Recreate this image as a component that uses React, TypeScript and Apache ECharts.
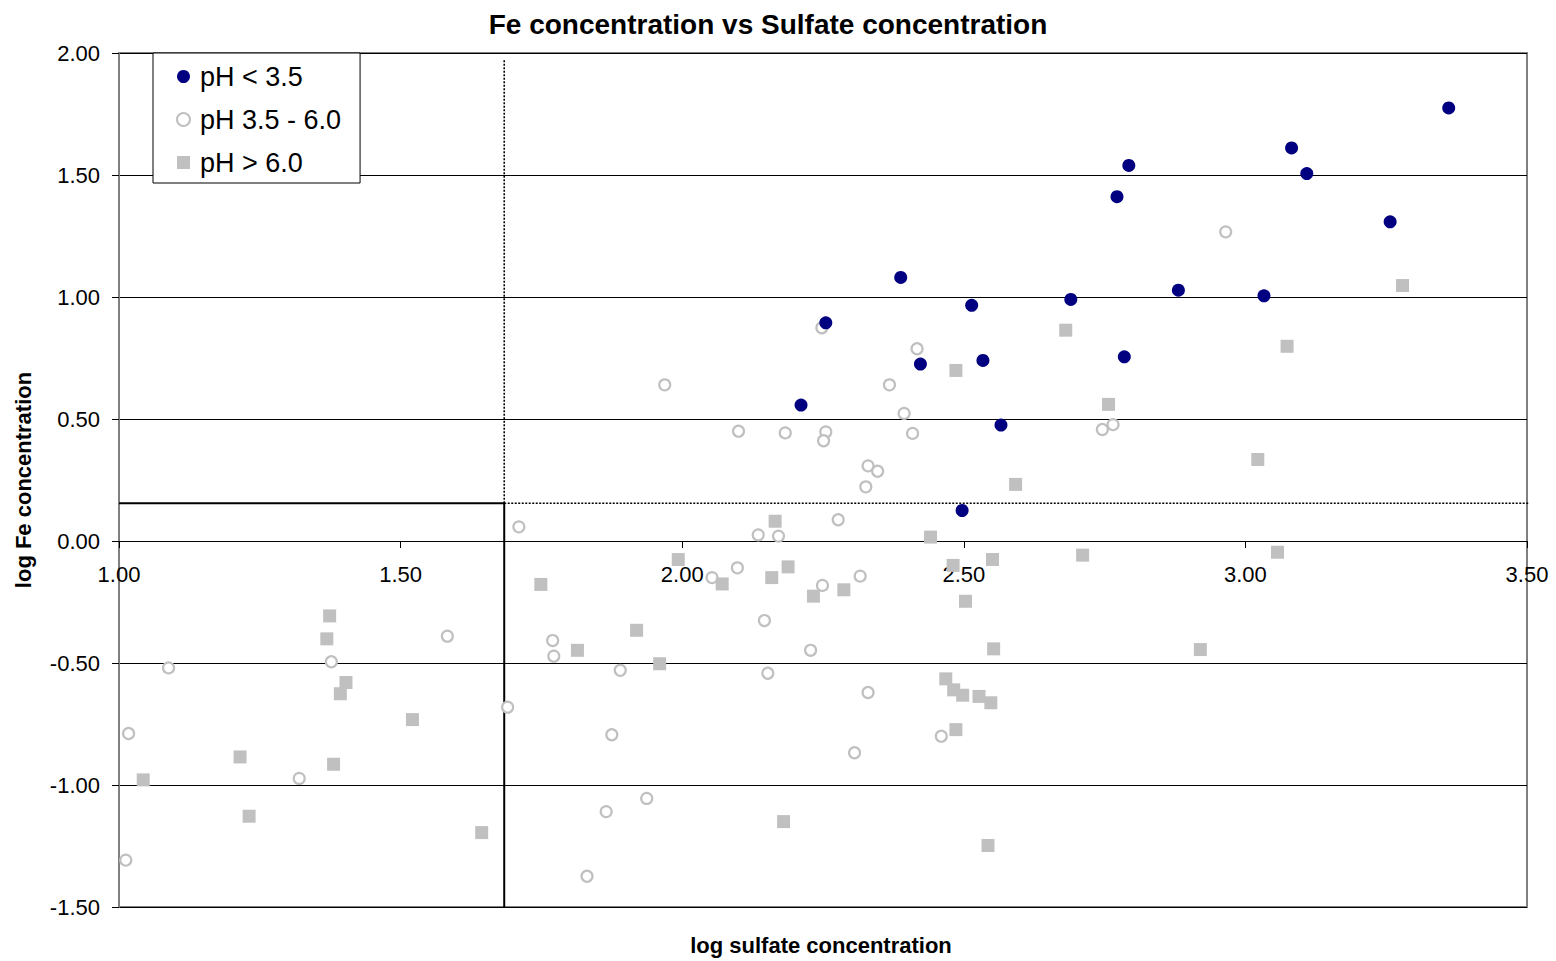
import React, { useEffect, useRef } from "react";
import * as echarts from "echarts";

// [log sulfate, log Fe]
const phBelow35: number[][] = [
  [3.361, 1.775], [3.082, 1.611], [3.109, 1.506], [2.793, 1.539], [2.772, 1.411],
  [3.257, 1.308], [2.388, 1.080], [2.881, 1.028], [3.033, 1.005], [2.690, 0.990],
  [2.514, 0.966], [2.255, 0.894], [2.423, 0.725], [2.534, 0.740], [2.785, 0.755],
  [2.211, 0.557], [2.566, 0.475], [2.497, 0.125],
];

const ph35to60: number[][] = [
  [1.017, -0.789], [1.012, -1.308], [1.088, -0.520], [1.377, -0.495], [1.320, -0.973],
  [1.583, -0.390], [1.690, -0.681], [1.710, 0.058], [1.770, -0.408], [1.772, -0.472],
  [1.890, -0.530], [1.875, -0.794], [1.865, -1.109], [1.937, -1.055], [1.831, -1.374],
  [1.969, 0.640], [2.053, -0.150], [2.098, -0.110], [2.100, 0.450], [2.135, 0.025],
  [2.171, 0.020], [2.146, -0.326], [2.152, -0.542], [2.183, 0.443], [2.228, -0.448],
  [2.249, -0.182], [2.248, 0.874], [2.255, 0.447], [2.251, 0.411], [2.277, 0.087],
  [2.316, -0.144], [2.330, -0.621], [2.306, -0.868], [2.326, 0.222], [2.330, 0.308],
  [2.347, 0.286], [2.368, 0.640], [2.394, 0.523], [2.409, 0.441], [2.417, 0.788],
  [2.460, -0.800], [2.746, 0.457], [2.765, 0.477], [2.965, 1.267],
];

const phAbove60: number[][] = [
  [1.374, -0.307], [1.369, -0.401], [1.403, -0.580], [1.393, -0.626], [1.521, -0.732],
  [1.215, -0.885], [1.381, -0.915], [1.043, -0.979], [1.231, -1.128], [1.644, -1.195],
  [1.749, -0.178], [1.919, -0.366], [1.814, -0.448], [1.960, -0.503], [1.993, -0.076],
  [2.071, -0.176], [2.159, -0.150], [2.188, -0.106], [2.165, 0.081], [2.233, -0.226],
  [2.287, -0.200], [2.180, -1.150], [2.441, 0.016], [2.481, -0.100], [2.551, -0.076],
  [2.503, -0.247], [2.553, -0.442], [2.468, -0.565], [2.482, -0.610], [2.498, -0.632],
  [2.527, -0.637], [2.548, -0.663], [2.486, -0.773], [2.543, -1.248], [2.486, 0.699],
  [2.592, 0.232], [2.681, 0.864], [2.757, 0.560], [2.711, -0.058], [3.022, 0.334],
  [3.057, -0.046], [2.920, -0.445], [3.074, 0.798], [3.279, 1.047],
];

// threshold lines
const thresholdSolid: number[][] = [[1.0, 0.155], [1.684, 0.155], [1.684, -1.5]];
const thresholdDottedV: number[][] = [[1.684, 0.155], [1.684, 1.97]];
const thresholdDottedH: number[][] = [[1.684, 0.155], [3.518, 0.155]];

const seriesNames = ["pH < 3.5", "pH 3.5 - 6.0", "pH > 6.0"];
const FONT = "'Liberation Sans', Arial, sans-serif";

const GRID_TOP = 53;
const GRID_H = 854;
const Y_MIN = -1.5;
const Y_MAX = 2;

export default function App() {
  const ref = useRef<HTMLDivElement>(null);
  useEffect(() => {
    document.body.style.margin = "0";
    const chart = echarts.init(ref.current!, undefined, { renderer: "svg" });
    const lineBase = {
      type: "line",
      showSymbol: false,
      symbol: "none",
      silent: true,
      clip: false,
      z: 1,
      animation: false,
    };
    // move the x axis (line, ticks, labels) up to y = 0
    const zeroOffset = -(GRID_H * (0 - Y_MIN)) / (Y_MAX - Y_MIN);
    chart.setOption({
      animation: false,
      backgroundColor: "#fff",
      title: {
        text: "Fe concentration vs Sulfate concentration",
        left: 763,
        top: 5,
        textAlign: "center",
        textStyle: { fontFamily: FONT, fontSize: 28, fontWeight: "bold", color: "#000" },
      },
      grid: {
        left: 119,
        top: GRID_TOP,
        width: 1408,
        height: GRID_H,
        show: true,
        borderColor: "#808080",
        borderWidth: 2,
        backgroundColor: "#fff",
        containLabel: false,
        outerBoundsMode: "none",
      },
      legend: {
        data: seriesNames,
        orient: "vertical",
        left: 153,
        top: 53,
        padding: [10, 19, 7, 23],
        itemGap: 16,
        itemWidth: 13,
        itemHeight: 13,
        backgroundColor: "#fff",
        borderColor: "#000",
        borderWidth: 1,
        borderRadius: 0,
        textStyle: { fontFamily: FONT, fontSize: 27, color: "#000", padding: [0, 0, 0, 5] },
      },
      xAxis: {
        type: "value",
        min: 1,
        max: 3.5,
        interval: 0.5,
        position: "bottom",
        offset: zeroOffset,
        axisLine: { onZero: false, lineStyle: { color: "#000", width: 1 } },
        axisTick: { show: true, length: 7, lineStyle: { color: "#000" } },
        axisLabel: {
          margin: 22,
          fontFamily: FONT,
          fontSize: 22,
          color: "#000",
          formatter: (v: number) => v.toFixed(2),
        },
        splitLine: { show: false },
      },
      yAxis: {
        type: "value",
        min: Y_MIN,
        max: Y_MAX,
        interval: 0.5,
        name: "log Fe concentration",
        nameLocation: "middle",
        nameGap: 85,
        nameTextStyle: { fontFamily: FONT, fontSize: 22, fontWeight: "bold", color: "#000" },
        axisLine: { onZero: false, lineStyle: { color: "#808080", width: 2 } },
        axisTick: { show: true, length: 7, lineStyle: { color: "#000" } },
        axisLabel: {
          margin: 19,
          fontFamily: FONT,
          fontSize: 22,
          color: "#000",
          formatter: (v: number) => v.toFixed(2),
        },
        splitLine: { show: true, lineStyle: { color: "#000", width: 1 } },
      },
      graphic: [
        {
          type: "text",
          x: 821,
          y: 945,
          style: {
            text: "log sulfate concentration",
            font: `bold 22px ${FONT}`,
            fill: "#000",
            align: "center",
            verticalAlign: "middle",
          },
        },
      ],
      series: [
        {
          ...lineBase,
          name: "solid",
          data: thresholdSolid,
          lineStyle: { color: "#000", width: 2, type: "solid" },
        },
        {
          ...lineBase,
          name: "dotv",
          data: thresholdDottedV,
          lineStyle: { color: "#000", width: 1.6, type: [2, 1.5] },
        },
        {
          ...lineBase,
          name: "doth",
          data: thresholdDottedH,
          lineStyle: { color: "#000", width: 1.6, type: [2, 1.5] },
        },
        {
          type: "scatter",
          name: seriesNames[0],
          data: phBelow35,
          symbol: "circle",
          symbolSize: 13,
          itemStyle: { color: "#000080", opacity: 1 },
          z: 4,
        },
        {
          type: "scatter",
          name: seriesNames[1],
          data: ph35to60,
          symbol: "circle",
          symbolSize: 11,
          itemStyle: { color: "#fff", borderColor: "#c0c0c0", borderWidth: 2.2, opacity: 1 },
          z: 3,
        },
        {
          type: "scatter",
          name: seriesNames[2],
          data: phAbove60,
          symbol: "rect",
          symbolSize: 13,
          itemStyle: { color: "#c0c0c0", opacity: 1 },
          z: 3,
        },
      ],
    });
    return () => chart.dispose();
  }, []);
  return <div ref={ref} style={{ width: 1556, height: 961 }} />;
}
